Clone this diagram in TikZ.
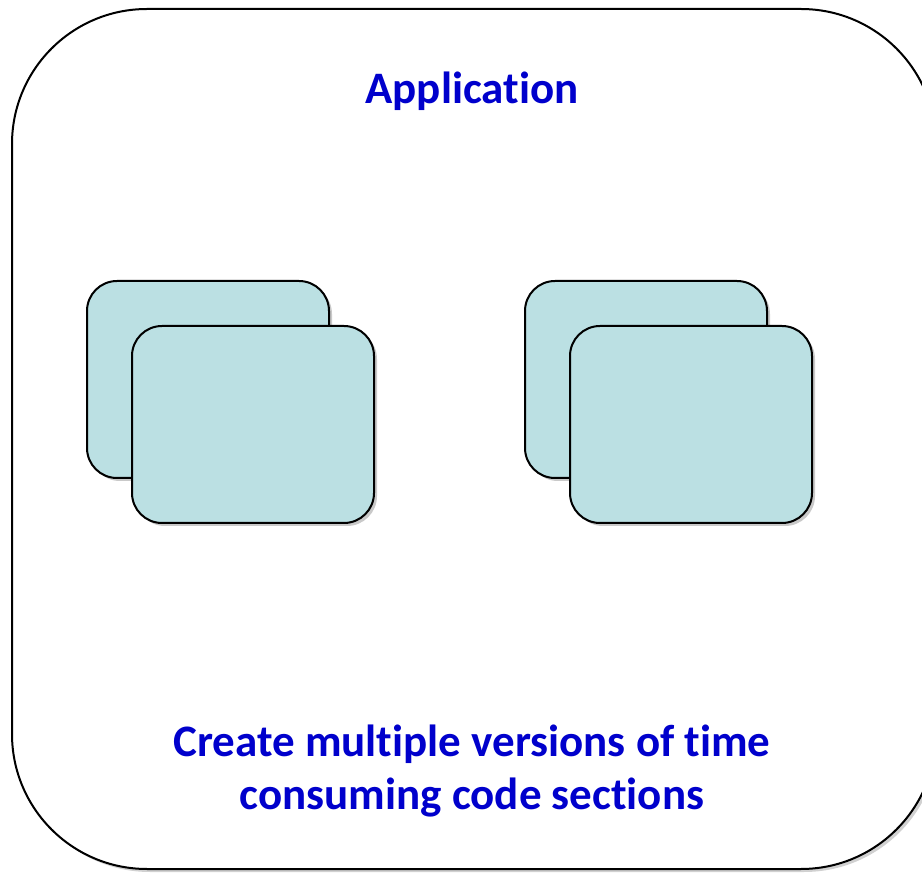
\documentclass[tikz,border=0pt]{standalone}
\usepackage{fontspec}
\setmainfont{Carlito}[RawFeature=-liga]
\usetikzlibrary{shadows}

\definecolor{cardfill}{RGB}{187,224,227}
\definecolor{titleblue}{RGB}{0,0,204}

\tikzset{
    card/.style={draw=black, line width=2pt, fill=cardfill, rounded corners=30pt,
        minimum width=242pt, minimum height=197pt, inner sep=0pt,
        drop shadow={shadow xshift=3pt, shadow yshift=-3pt, opacity=0.35, fill=black!60}},
    heading/.style={text=titleblue, font=\bfseries\fontsize{45}{53}\selectfont, align=center}
}

\begin{document}
\begin{tikzpicture}[x=1pt, y=-1pt]
        \useasboundingbox (0,0) rectangle (922,874);
        \clip (0,0) rectangle (922,874);

        % application frame
        \node[draw=black, line width=2pt, fill=white, rounded corners=135pt,
            minimum width=924pt, minimum height=860pt, inner sep=0pt,
            drop shadow={shadow xshift=3pt, shadow yshift=-3pt, opacity=0.3, fill=black!60}]
            (app) at (474,439) {};

        \node[heading] (apptitle) at (472,91) {Application};

        % left pair of code sections
        \node[card] (leftback) at (208,379.5) {};
        \node[card] (leftfront) at (253,424.5) {};

        % right pair of code sections
        \node[card] (rightback) at (646,379.5) {};
        \node[card] (rightfront) at (691,424.5) {};

        \node[heading] (caption) at (472,771) {Create multiple versions of time\\consuming code sections};
    \end{tikzpicture}
\end{document}
